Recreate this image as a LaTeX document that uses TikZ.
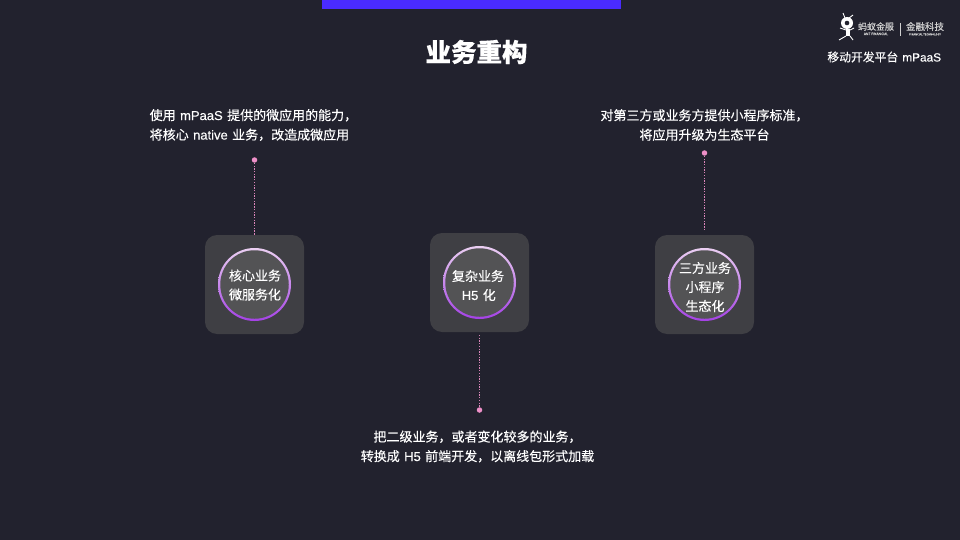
\documentclass[tikz,border=0pt]{standalone}
\usepackage{fontspec}
\setmainfont[FakeBold=0.25]{Noto Sans CJK SC}
\newfontfamily\latf[FakeBold=0.25]{Liberation Sans}
\newcommand{\lat}[1]{\hspace{1.5pt}{\latf #1}\hspace{1.5pt}}
\usetikzlibrary{positioning}
\definecolor{bgdark}{HTML}{22222E}
\definecolor{barblue}{HTML}{4A2BFF}
\definecolor{boxgray}{HTML}{3F3F44}
\definecolor{discgray}{HTML}{535355}
\definecolor{ringtop}{HTML}{EBCFF2}
\definecolor{ringbot}{HTML}{A441E6}
\definecolor{dotpink}{HTML}{EE90C8}
\definecolor{logogray}{HTML}{D0D0D0}

\begin{document}
\begin{tikzpicture}[x=1pt, y=-1pt, every node/.style = {text=white, align=center, inner sep=0pt},
  tile/.style = {fill=boxgray, rounded corners=12pt, minimum size=99pt},
  ring/.style = {circle, minimum size=73pt, top color=ringtop, bottom color=ringbot},
  disc/.style = {circle, fill=discgray, minimum size=68.5pt},
  tiletext/.style = {font=\fontsize{13}{19}\selectfont},
  note/.style = {font=\fontsize{13}{19.5}\selectfont},
  dot/.style = {circle, fill=dotpink, minimum size=5.5pt},
  link/.style = {draw=dotpink!90!bgdark, dash pattern=on 1.35pt off 1.35pt, line width=1.2pt}]
\useasboundingbox (0,0) rectangle (960,540);
\fill[bgdark] (0,0) rectangle (960,540);
\fill[barblue] (322,0) rectangle (621,9);
\node[font=\fontsize{25.5}{28}\selectfont\bfseries] (title) at (476.5,52) {业务重构};
% logo
\node[font=\fontsize{11.8}{14}\selectfont] (platform) at (885,57) {移动开发平台 \lat{mPaaS}};
\node[text=logogray, font=\fontsize{9}{10}\selectfont] (antcn) at (876,26.5) {蚂蚁金服};
\node[text=logogray, font=\fontsize{3.4}{4}\selectfont] (anten) [below=1.5pt of antcn] {ANT FINANCIAL};
\node[text=logogray, font=\fontsize{9.5}{10}\selectfont] (fincn) at (925,26.5) {金融科技};
\node[text=logogray, font=\fontsize{2.7}{4}\selectfont] (finen) [below=2pt of fincn] {FINANCIAL TECHNOLOGY};
\draw[logogray, line width=0.4pt] (900.5,23) -- (900.5,36);
\fill[white] (847,23) circle (6pt);
\fill[bgdark] (847,23) circle (2.3pt);
\fill[white] (846,29) rectangle (850,36);
\draw[white, line width=0.9pt] (845,18) -- (843,13) (849,18) -- (853,15)
  (846,30) -- (840,28) (850,30) -- (854,28) (846,36) -- (839,40) (850,36) -- (853,40);
% left
\node[tile] (tilea) at (254.5,284.5) {};
\node[ring] (ringa) at (tilea) {};
\node[disc] (disca) at (tilea) {};
\node[tiletext] (texta) at (255,285) {核心业务\\微服务化};
\node[dot] (dota) at (254.5,160) {};
\node[note, align=left, anchor=west] (notea) at (149.5,125) {使用 \lat{mPaaS} 提供的微应用的能力，\\将核心 \lat{native} 业务，改造成微应用};
\draw[link] (dota) -- (tilea);
% middle
\node[tile] (tileb) at (479.5,282.5) {};
\node[ring] (ringb) at (tileb) {};
\node[disc] (discb) at (tileb) {};
\node[tiletext] (textb) at (478,285.5) {复杂业务\\\lat{H5} 化};
\node[dot] (dotb) at (479.5,410) {};
\coordinate (startb) at (479.5,335);
\node[note] (noteb) at (477.5,446.5) {把二级业务，或者变化较多的业务，\\转换成 \lat{H5} 前端开发，以离线包形式加载};
\draw[link] (startb) -- (dotb);
% right
\node[tile] (tilec) at (704.5,284.5) {};
\node[ring] (ringc) at (tilec) {};
\node[disc] (discc) at (tilec) {};
\node[tiletext] (textc) at (705,287) {三方业务\\小程序\\生态化};
\node[dot] (dotc) at (704.5,153) {};
\coordinate (endc) at (704.5,229);
\node[note] (notec) at (704.5,125) {对第三方或业务方提供小程序标准，\\将应用升级为生态平台};
\draw[link] (dotc) -- (endc);
\end{tikzpicture}
\end{document}
